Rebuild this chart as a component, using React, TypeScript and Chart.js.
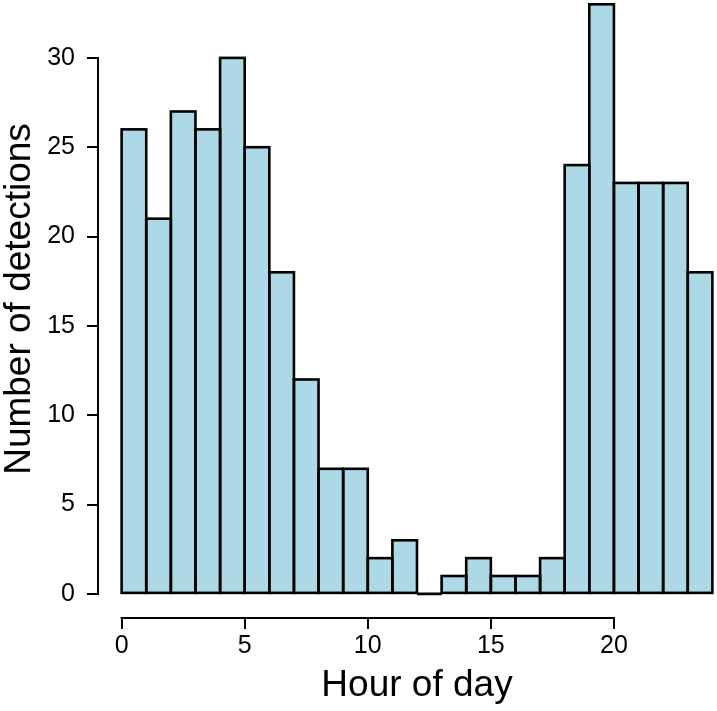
import React, { useEffect, useRef } from "react";
import { Chart, registerables } from "chart.js";

Chart.register(...registerables);

// Histogram bins (start hour of each 1-hour bin) and counts
const hourBins = [0, 1, 2, 3, 4, 5, 6, 7, 8, 9, 10, 11, 12, 13, 14, 15, 16, 17, 18, 19, 20, 21, 22, 23];
const detections = [26, 21, 27, 26, 30, 25, 18, 12, 7, 7, 2, 3, 0, 1, 2, 1, 1, 2, 24, 33, 23, 23, 23, 18];
const xTickValues = [0, 5, 10, 15, 20];
const yTickValues = [0, 5, 10, 15, 20, 25, 30];
const xTitle = "Hour of day";
const yTitle = "Number of detections";

const FILL = "#ADD8E6";
const FONT = "'Liberation Sans', Arial, Helvetica, sans-serif";

const histPlugin = {
  id: "histOutline",
  afterDatasetsDraw(chart: any) {
    const meta = chart.getDatasetMeta(0);
    const ctx = chart.ctx;
    ctx.save();
    ctx.lineWidth = 2.6;
    ctx.strokeStyle = "#000";
    ctx.lineJoin = "miter";
    meta.data.forEach((bar: any) => {
      const { x, y, base, width } = bar.getProps(["x", "y", "base", "width"], true);
      ctx.strokeRect(x - width / 2, y, width, base - y);
    });
    ctx.restore();
  },
  afterDraw(chart: any) {
    const ctx = chart.ctx;
    const xs = chart.scales.x;
    const ys = chart.scales.y;
    const area = chart.chartArea;
    ctx.save();
    ctx.lineWidth = 2;
    ctx.strokeStyle = "#000";
    ctx.lineCap = "square";
    ctx.beginPath();
    ctx.moveTo(area.left, ys.getPixelForValue(yTickValues[0]));
    ctx.lineTo(area.left, ys.getPixelForValue(yTickValues[yTickValues.length - 1]));
    ctx.stroke();
    ctx.beginPath();
    ctx.moveTo(xs.getPixelForValue(xTickValues[0]), area.bottom);
    ctx.lineTo(xs.getPixelForValue(xTickValues[xTickValues.length - 1]), area.bottom);
    ctx.stroke();
    ctx.restore();
  },
};

// The R-style plot region extends slightly past the visible frame (top and right),
// so the canvas is a bit larger than the view and shifted up.
const CANVAS_W = 736;
const CANVAS_H = 731;
const SHIFT_Y = 20;

export default function App() {
  const canvasRef = useRef<HTMLCanvasElement | null>(null);

  useEffect(() => {
    if (!canvasRef.current) return;
    const chart = new Chart(canvasRef.current, {
      type: "bar",
      data: {
        datasets: [
          {
            data: hourBins.map((h, i) => ({ x: h + 0.5, y: detections[i] })),
            backgroundColor: FILL,
            borderWidth: 0,
            barPercentage: 1,
            categoryPercentage: 1,
          },
        ],
      },
      options: {
        responsive: false,
        animation: false,
        devicePixelRatio: 1,
        layout: { padding: 0 },
        plugins: {
          legend: { display: false },
          tooltip: { enabled: false },
          title: { display: false },
        },
        scales: {
          x: {
            type: "linear",
            offset: false,
            min: -0.96,
            max: 24.96,
            border: { display: false },
            grid: {
              display: true,
              offset: false,
              drawOnChartArea: false,
              drawTicks: true,
              tickLength: 11,
              color: "#000",
              lineWidth: 2,
            },
            ticks: {
              autoSkip: false,
              maxRotation: 0,
              padding: 2,
              color: "#000",
              font: { family: FONT, size: 25 },
            },
            title: {
              display: true,
              text: xTitle,
              color: "#000",
              font: { family: FONT, size: 37, lineHeight: "50px" },
              padding: 0,
            },
            afterBuildTicks: (scale: any) => {
              scale.ticks = xTickValues.map((v) => ({ value: v }));
            },
            afterFit: (scale: any) => {
              scale.height = 93;
              scale.paddingLeft = 0;
              scale.paddingRight = 0;
              scale.paddingTop = 0;
              scale.paddingBottom = 0;
            },
          },
          y: {
            type: "linear",
            min: -1.35,
            max: 34.36,
            border: { display: false },
            grid: {
              display: true,
              drawOnChartArea: false,
              drawTicks: true,
              tickLength: 11,
              color: "#000",
              lineWidth: 2,
            },
            ticks: {
              autoSkip: false,
              padding: 12,
              color: "#000",
              font: { family: FONT, size: 25 },
            },
            title: {
              display: true,
              text: yTitle,
              color: "#000",
              font: { family: FONT, size: 37, lineHeight: "40px" },
              padding: 0,
            },
            afterBuildTicks: (scale: any) => {
              scale.ticks = yTickValues.map((v) => ({ value: v }));
            },
            afterFit: (scale: any) => {
              scale.width = 98;
              scale.paddingLeft = 0;
              scale.paddingRight = 0;
              scale.paddingTop = 0;
              scale.paddingBottom = 0;
            },
          },
        },
      },
      plugins: [histPlugin],
    });
    return () => chart.destroy();
  }, []);

  return (
    <div
      style={{
        position: "absolute",
        left: 0,
        top: 0,
        width: 717,
        height: 711,
        overflow: "hidden",
        background: "#fff",
      }}
    >
      <canvas
        ref={canvasRef}
        width={CANVAS_W}
        height={CANVAS_H}
        style={{ display: "block", position: "absolute", left: 0, top: -SHIFT_Y }}
      />
    </div>
  );
}
